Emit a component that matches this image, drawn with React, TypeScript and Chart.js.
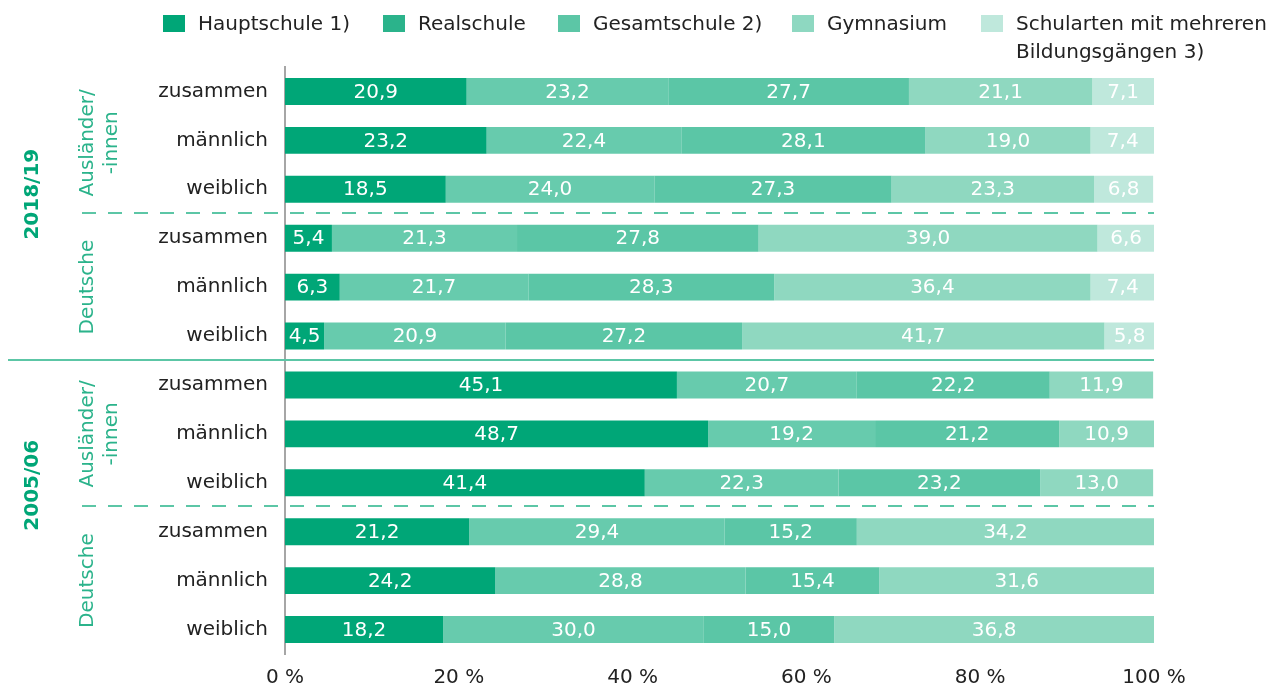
import React, { useEffect, useRef } from "react";
import { Chart, registerables } from "chart.js";

Chart.register(...registerables);

const rowLabels = [
  "zusammen", "männlich", "weiblich",
  "zusammen", "männlich", "weiblich",
  "zusammen", "männlich", "weiblich",
  "zusammen", "männlich", "weiblich",
];

const seriesNames = ["Hauptschule 1)", "Realschule", "Gesamtschule 2)", "Gymnasium", "Schularten mit mehreren\nBildungsgängen 3)"];

const hauptschule = [20.9, 23.2, 18.5, 5.4, 6.3, 4.5, 45.1, 48.7, 41.4, 21.2, 24.2, 18.2];
const realschule = [23.2, 22.4, 24.0, 21.3, 21.7, 20.9, 20.7, 19.2, 22.3, 29.4, 28.8, 30.0];
const gesamtschule = [27.7, 28.1, 27.3, 27.8, 28.3, 27.2, 22.2, 21.2, 23.2, 15.2, 15.4, 15.0];
const gymnasium = [21.1, 19.0, 23.3, 39.0, 36.4, 41.7, 11.9, 10.9, 13.0, 34.2, 31.6, 36.8];
const mehrere = [7.1, 7.4, 6.8, 6.6, 7.4, 5.8, null, null, null, null, null, null];

const xTicks = [0, 20, 40, 60, 80, 100];

const yearLabels = ["2018/19", "2005/06"];
const groupLabels = [["Ausländer/", "-innen"], ["Deutsche"], ["Ausländer/", "-innen"], ["Deutsche"]];

const barColors = ["#00a677", "#67cbad", "#5bc6a6", "#8fd8c0", "#bfe8dc"];
const legendColors = ["#00a677", "#2bb38b", "#5cc6a6", "#8ed8c1", "#bfe8dc"];

const FONT = "'DejaVu Sans'";
const TEXT = "#222222";
const GREEN = "#00a677";
const LINE = "#5cc6a6";

const customPlugin = {
  id: "customDraw",
  afterDatasetsDraw(chart: any) {
    const ctx = chart.ctx;
    ctx.save();
    ctx.fillStyle = "#ffffff";
    ctx.font = `20px ${FONT}`;
    ctx.textAlign = "center";
    ctx.textBaseline = "middle";
    chart.data.datasets.forEach((ds: any, di: number) => {
      const meta = chart.getDatasetMeta(di);
      meta.data.forEach((el: any, i: number) => {
        const v = ds.data[i];
        if (v == null) return;
        const c = el.getCenterPoint();
        ctx.fillText(v.toFixed(1).replace(".", ","), c.x, c.y + 1);
      });
    });
    ctx.restore();
  },
  afterDraw(chart: any) {
    const ctx = chart.ctx;
    const ys = chart.scales.y;
    const area = chart.chartArea;
    ctx.save();

    // legend
    const sqX = [163, 383, 558, 792, 981];
    ctx.font = `20px ${FONT}`;
    ctx.textBaseline = "middle";
    ctx.textAlign = "left";
    seriesNames.forEach((name, i) => {
      ctx.fillStyle = legendColors[i];
      ctx.fillRect(sqX[i], 15, 22, 17);
      ctx.fillStyle = TEXT;
      const lines = name.split("\n");
      lines.forEach((ln, li) => {
        ctx.fillText(ln, sqX[i] + 35, 25 + li * 28);
      });
    });

    // separators
    const b = (k: number) => (ys.getPixelForValue(k) + ys.getPixelForValue(k + 1)) / 2;
    ctx.strokeStyle = LINE;
    ctx.lineWidth = 2;
    ctx.setLineDash([14, 12]);
    [2, 8].forEach((k) => {
      const y = Math.round(b(k)) - 1;
      ctx.beginPath();
      ctx.moveTo(82, y);
      ctx.lineTo(area.right, y);
      ctx.stroke();
    });
    ctx.setLineDash([]);
    {
      const y = Math.round(b(5)) - 1;
      ctx.beginPath();
      ctx.moveTo(8, y);
      ctx.lineTo(area.right, y);
      ctx.stroke();
    }

    // rotated group labels
    const rot = (text: string, x: number, y: number, font: string, color: string) => {
      ctx.save();
      ctx.translate(x, y);
      ctx.rotate(-Math.PI / 2);
      ctx.font = font;
      ctx.fillStyle = color;
      ctx.textAlign = "center";
      ctx.textBaseline = "middle";
      ctx.fillText(text, 0, 0);
      ctx.restore();
    };
    rot(yearLabels[0], 33, ys.getPixelForValue(2.1), `bold 20px ${FONT}`, GREEN);
    rot(yearLabels[1], 33, ys.getPixelForValue(8.05), `bold 20px ${FONT}`, GREEN);
    const centers = [1.05, 4, 7, 10];
    groupLabels.forEach((lines, gi) => {
      const y = ys.getPixelForValue(centers[gi]);
      if (lines.length === 2) {
        rot(lines[0], 88, y, `20px ${FONT}`, "#2bb38b");
        rot(lines[1], 112, y, `20px ${FONT}`, "#2bb38b");
      } else {
        rot(lines[0], 88, y, `20px ${FONT}`, "#2bb38b");
      }
    });

    ctx.restore();
  },
};

export default function App() {
  const ref = useRef<HTMLCanvasElement | null>(null);
  useEffect(() => {
    if (!ref.current) return;
    const data = [hauptschule, realschule, gesamtschule, gymnasium, mehrere];
    const chart = new Chart(ref.current, {
      type: "bar",
      data: {
        labels: rowLabels,
        datasets: data.map((d, i) => ({
          label: seriesNames[i],
          data: d,
          backgroundColor: barColors[i],
          borderWidth: 0,
          barPercentage: 0.55,
          categoryPercentage: 1,
        })),
      },
      options: {
        indexAxis: "y",
        responsive: false,
        animation: false,
        devicePixelRatio: 1,
        layout: { padding: { top: 67, left: 0, right: 122, bottom: 0 } },
        plugins: {
          legend: { display: false },
          tooltip: { enabled: false },
        },
        scales: {
          x: {
            stacked: true,
            min: 0,
            max: 100,
            afterBuildTicks: (scale: any) => {
              scale.ticks = xTicks.map((v) => ({ value: v }));
            },
            afterFit: (scale: any) => {
              scale.height = 36;
            },
            grid: { display: false, drawTicks: false },
            border: { display: false },
            ticks: {
              padding: 12,
              color: TEXT,
              font: { family: FONT, size: 20 },
              callback: (v: any) => `${v} %`,
              maxRotation: 0,
            },
          },
          y: {
            stacked: true,
            afterFit: (scale: any) => {
              scale.width = 285;
            },
            grid: { display: false, drawTicks: false },
            border: { display: true, color: "#a6a6a6", width: 2 },
            ticks: {
              padding: 17,
              color: TEXT,
              font: { family: FONT, size: 20 },
            },
          },
        },
      },
      plugins: [customPlugin],
    } as any);
    return () => chart.destroy();
  }, []);
  return (
    <div style={{ position: "absolute", left: 0, top: 0, width: 1276, height: 690, background: "#fff" }}>
      <canvas ref={ref} width={1276} height={690} style={{ width: 1276, height: 690 }} />
    </div>
  );
}
